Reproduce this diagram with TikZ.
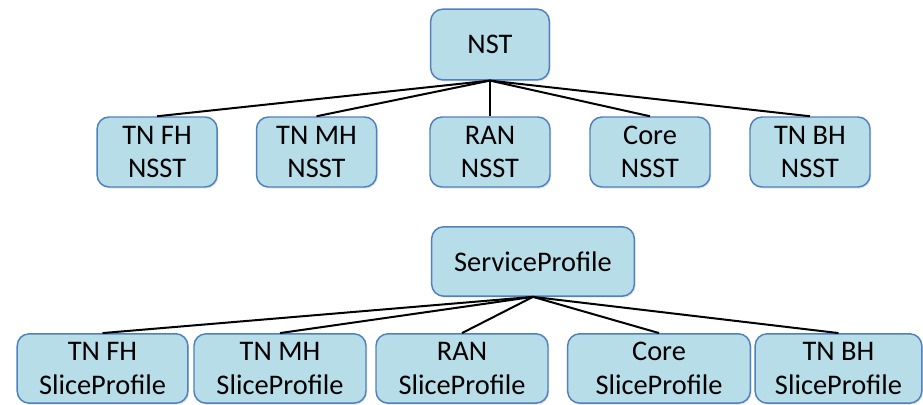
\documentclass[tikz,border=0pt]{standalone}
\usepackage{fontspec}
\setmainfont{Carlito}
\usetikzlibrary{shapes,shadows}
\definecolor{boxfill}{HTML}{B7DDE8}
\definecolor{boxline}{HTML}{4F81BD}
\tikzstyle{block} = [rectangle, draw=boxline, line width=1.1pt, fill=boxfill, align=center, rounded corners=9pt, minimum width=90pt, minimum height=52.5pt, inner sep=0pt, drop shadow={opacity=0.2, shadow xshift=1pt, shadow yshift=-1.2pt}]
\tikzstyle{profile} = [block, minimum width=129pt, minimum height=52pt]
\tikzstyle{line} = [draw, line width=1.5pt]

\begin{document}
\begin{tikzpicture}[node distance = 80pt, font=\fontsize{21.3}{25}\selectfont]
      \useasboundingbox (-367.5pt,33.4pt) rectangle (324.75pt,-269.6pt);
      % place nodes
      \node [block, minimum width=89pt, minimum height=53pt] (nst) {NST};
      \node [block, below of=nst, node distance=80.6pt] (ran) {RAN\\NSST};
      \node [block, left of=ran, node distance=130.1pt] (mh) {TN MH\\NSST};
      \node [block, left of=mh, node distance=119.6pt] (fh) {TN FH\\NSST};
      \node [block, right of=ran, node distance=120pt] (core) {Core\\NSST};
      \node [block, right of=core, node distance=120pt] (bh) {TN BH\\NSST};

      \node [block, minimum width=152pt, minimum height=52pt, below of=ran, node distance=82.1pt, xshift=32.25pt] (sp) {ServiceProfile};
      \node [profile, below of=sp, node distance=80.25pt, xshift=-53.25pt] (ranp) {RAN\\SliceProfile};
      \node [profile, left of=ranp, node distance=136.5pt] (mhp) {TN MH\\SliceProfile};
      \node [profile, left of=mhp, node distance=133.1pt, minimum width=128pt] (fhp) {TN FH\\SliceProfile};
      \node [profile, right of=ranp, node distance=147.75pt, minimum width=137pt] (corep) {Core\\SliceProfile};
      \node [profile, right of=corep, node distance=134.6pt, minimum width=125pt] (bhp) {TN BH\\SliceProfile};

      % draw edges
      \path [line] (nst.south) -- (fh.north);
      \path [line] (nst.south) -- (mh.north);
      \path [line] (nst.south) -- (ran.north);
      \path [line] (nst.south) -- (core.north);
      \path [line] (nst.south) -- (bh.north);
      \path [line] (sp.south) -- (fhp.north);
      \path [line] (sp.south) -- (mhp.north);
      \path [line] (sp.south) -- (ranp.north);
      \path [line] (sp.south) -- (corep.north);
      \path [line] (sp.south) -- (bhp.north);
    \end{tikzpicture}
\end{document}
